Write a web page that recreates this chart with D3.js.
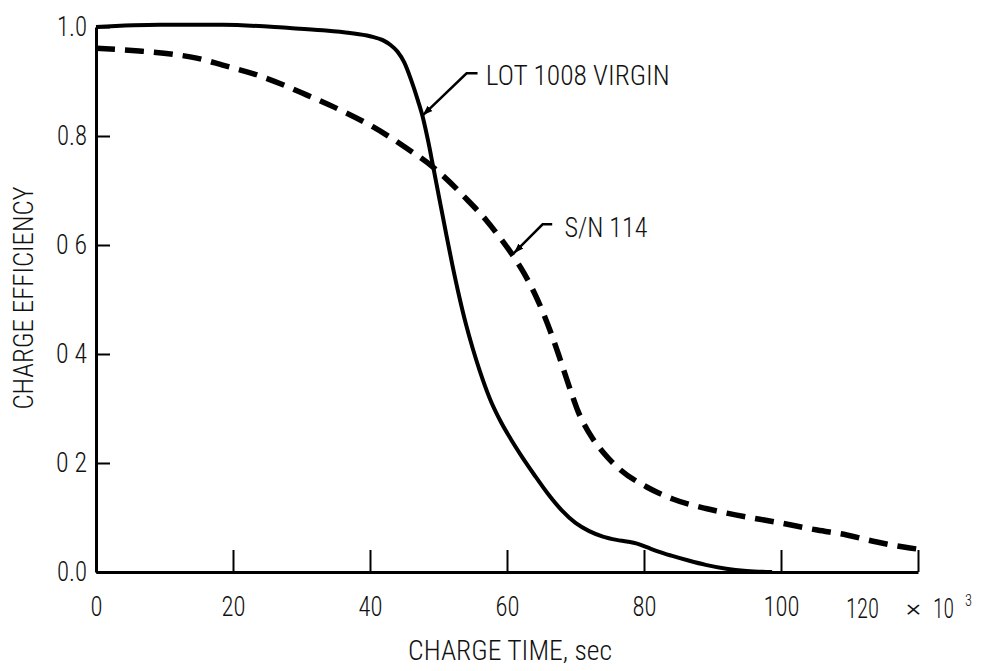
<!DOCTYPE html>
<html>
<head>
<meta charset="utf-8">
<script src="https://cdn.jsdelivr.net/npm/d3@7"></script>
<style>
  html, body { margin: 0; padding: 0; background: #fff; }
  svg { display: block; }
  text { font-family: "Liberation Sans Narrow", "Arial Narrow", "Roboto Condensed", "DejaVu Sans Condensed", "Liberation Sans", sans-serif; font-stretch: condensed; font-weight: 300; fill: #111; }
</style>
</head>
<body>
<svg id="chart" width="981" height="671"></svg>
<script>
// ---- data (charge time in 10^3 sec, charge efficiency) ----
const lotTime = [0, 9.3, 18.5, 28.3, 33.1, 37.1, 40.0, 42.0, 43.0, 44.0, 45.0, 46.0, 47.0, 47.7, 48.5, 49.2, 50.0, 51.0, 52.0, 53.0, 54.0, 55.0, 56.0, 57.5, 59.0, 60.5, 62.0, 64.0, 66.0, 68.0, 70.0, 72.0, 74.0, 76.0, 77.5, 79.0, 80.5, 82.0, 84.0, 86.5, 89.0, 92.0, 95.0, 98.7];
const lotEff  = [1.0, 1.004, 1.004, 0.998, 0.994, 0.989, 0.983, 0.975, 0.967, 0.955, 0.935, 0.903, 0.865, 0.835, 0.79, 0.745, 0.693, 0.628, 0.565, 0.507, 0.455, 0.41, 0.37, 0.318, 0.278, 0.245, 0.215, 0.178, 0.143, 0.113, 0.09, 0.075, 0.065, 0.059, 0.056, 0.052, 0.045, 0.038, 0.03, 0.021, 0.013, 0.006, 0.002, 0.0];

const snTime = [0, 6.3, 11.2, 14.7, 18.5, 23.5, 27.3, 30.8, 35.6, 40.4, 45.3, 49.2, 54.2, 57.0, 59.0, 61.0, 62.5, 64.0, 65.3, 66.5, 67.5, 68.5, 69.5, 70.3, 71.3, 72.5, 74.0, 76.5, 80.4, 84.2, 89.2, 92.1, 99.9, 105.3, 109.6, 114.0, 118.8, 120];
const snEff  = [0.961, 0.956, 0.95, 0.943, 0.93, 0.912, 0.894, 0.875, 0.848, 0.817, 0.778, 0.743, 0.683, 0.645, 0.613, 0.578, 0.548, 0.512, 0.475, 0.436, 0.40, 0.362, 0.325, 0.297, 0.27, 0.245, 0.22, 0.188, 0.156, 0.134, 0.116, 0.108, 0.09, 0.077, 0.068, 0.055, 0.044, 0.042];

const xTicks = [0, 20, 40, 60, 80, 100, 120];
const xTickLabels = ["0", "20", "40", "60", "80", "100", ""];
const xUnitLabel = ["120", "×", "10", "3"];
const yTicks = [0, 0.2, 0.4, 0.6, 0.8, 1.0];
const yTickLabels = ["0.0", "0 2", "0 4", "0 6", "0.8", "1.0"];

const seriesNames = ["LOT 1008 VIRGIN", "S/N 114"];
// annotation anchors in data units: tip on curve, elbow, end of leader, label start
const annTip   = [[47.7, 0.838], [61.0, 0.585]];
const annElbow = [[54.1, 0.915], [65.2, 0.638]];
const annEnd   = [[55.7, 0.915], [66.6, 0.638]];
const annText  = [[56.9, 0.894], [68.4, 0.615]];

const xTitle = "CHARGE TIME, sec";
const yTitle = "CHARGE EFFICIENCY";

// ---- layout ----
const svg = d3.select("#chart");
const x = d3.scaleLinear().domain([0, 120]).range([96, 918]);
const y = d3.scaleLinear().domain([0, 1]).range([572, 27]);

// approximate condensed text widths
const labelWidth = s => Array.from(s).reduce((w, c) => w + (c === "." ? 6 : c === " " ? 7 : 12), 0);

const defs = svg.append("defs");
defs.append("marker")
  .attr("id", "arr").attr("viewBox", "0 0 10 10")
  .attr("refX", 0).attr("refY", 5)
  .attr("markerWidth", 10).attr("markerHeight", 10)
  .attr("markerUnits", "userSpaceOnUse")
  .attr("orient", "auto")
  .append("path").attr("d", "M0,5 L10,1.5 L10,8.5 Z").attr("fill", "#000");

// axes
const xAxis = d3.axisBottom(x)
  .tickValues(xTicks)
  .tickFormat((d, i) => xTickLabels[i])
  .tickSize(-22).tickSizeOuter(0).tickPadding(24);
const gx = svg.append("g").attr("transform", `translate(0,${y(0)})`).call(xAxis);

const yAxis = d3.axisLeft(y)
  .tickValues(yTicks)
  .tickFormat((d, i) => yTickLabels[i])
  .tickSize(-14).tickSizeOuter(0).tickPadding(9);
const gy = svg.append("g").attr("transform", `translate(${x(0)},0)`).call(yAxis);

[gx, gy].forEach(g => {
  g.attr("font-family", null).attr("font-size", null);
  g.select(".domain").attr("stroke", "#000").attr("stroke-width", 3);
  g.selectAll(".tick line").attr("stroke", "#000").attr("stroke-width", 2);
  g.selectAll(".tick text").attr("font-size", 28).attr("fill", "#111")
    .each(function () {
      const t = d3.select(this).text();
      if (t) d3.select(this).attr("textLength", labelWidth(t)).attr("lengthAdjust", "spacingAndGlyphs");
    });
});

// last x label "120 × 10^3"
const lastTick = gx.selectAll(".tick").filter(d => d === 120);
lastTick.select("text").remove();
const unitX = [-56, -5, 25, 50];
const unitW = [33, 16, 21, 7];
const unitY = [46, 44, 46, 34];
const unitSize = [28, 24, 28, 17];
xUnitLabel.forEach((s, i) => {
  lastTick.append("text")
    .attr("x", unitX[i]).attr("y", unitY[i])
    .attr("font-size", unitSize[i])
    .attr("textLength", unitW[i]).attr("lengthAdjust", "spacingAndGlyphs")
    .text(s);
});

// lines
const lotData = lotTime.map((t, i) => [t, lotEff[i]]);
const snData = snTime.map((t, i) => [t, snEff[i]]);
const line = d3.line().x(d => x(d[0])).y(d => y(d[1])).curve(d3.curveMonotoneX);

svg.append("path").datum(snData)
  .attr("d", line).attr("fill", "none").attr("stroke", "#000")
  .attr("stroke-width", 5.5).attr("stroke-dasharray", "19,10");
svg.append("path").datum(lotData)
  .attr("d", line).attr("fill", "none").attr("stroke", "#000")
  .attr("stroke-width", 4).attr("stroke-linejoin", "round");

// annotations
seriesNames.forEach((name, i) => {
  const pts = [annTip[i], annElbow[i], annEnd[i]];
  svg.append("path")
    .attr("d", d3.line().x(d => x(d[0])).y(d => y(d[1]))(pts))
    .attr("fill", "none").attr("stroke", "#000").attr("stroke-width", 2.5)
    .attr("marker-start", "url(#arr)");
  svg.append("text")
    .attr("x", x(annText[i][0])).attr("y", y(annText[i][1]))
    .attr("font-size", 28)
    .attr("textLength", i === 0 ? 184 : 83).attr("lengthAdjust", "spacingAndGlyphs")
    .text(name);
});

// titles
svg.append("text")
  .attr("x", 510).attr("y", 660)
  .attr("text-anchor", "middle").attr("font-size", 28)
  .attr("textLength", 204).attr("lengthAdjust", "spacingAndGlyphs")
  .text(xTitle);
svg.append("text")
  .attr("transform", "translate(33,298) rotate(-90)")
  .attr("text-anchor", "middle").attr("font-size", 28)
  .attr("textLength", 223).attr("lengthAdjust", "spacingAndGlyphs")
  .text(yTitle);
</script>
</body>
</html>
